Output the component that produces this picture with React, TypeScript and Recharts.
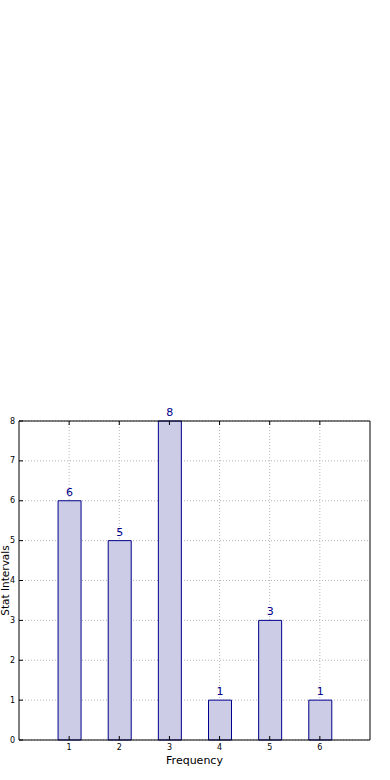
import { BarChart, Bar, XAxis, YAxis, CartesianGrid, LabelList } from 'recharts';

const frequencies = [1, 2, 3, 4, 5, 6];
const intervals = [6, 5, 8, 1, 3, 1];
const xTicks = [1, 2, 3, 4, 5, 6];
const yTicks = [0, 1, 2, 3, 4, 5, 6, 7, 8];

const data = frequencies.map((f, i) => ({ freq: f, value: intervals[i] }));

const FONT = '"DejaVu Sans", sans-serif';

const YTick = ({ x, y, payload }: any) => (
  <g>
    <line x1={x + 4} x2={x + 8} y1={y} y2={y} stroke="#000" strokeWidth={1} />
    <text x={x} y={y} dy="0.32em" textAnchor="end" fontSize={8} fontFamily={FONT} fill="#000">
      {payload.value}
    </text>
  </g>
);

const XTick = ({ x, y, payload }: any) => (
  <g>
    <line x1={x} x2={x} y1={y - 3} y2={y - 7} stroke="#000" strokeWidth={1} />
    <text x={x} y={y} dy="0.85em" textAnchor="middle" fontSize={8} fontFamily={FONT} fill="#000">
      {payload.value}
    </text>
  </g>
);

// inward tick marks on the right and top spines
const RightTick = ({ x, y }: any) => (
  <line x1={x - 4} x2={x} y1={y} y2={y} stroke="#000" strokeWidth={1} />
);

const TopTick = ({ x, y }: any) => (
  <line x1={x} x2={x} y1={y} y2={y + 4} stroke="#000" strokeWidth={1} />
);

const YLabel = ({ viewBox }: any) => {
  const cx = viewBox.x + 5;
  const cy = viewBox.y + viewBox.height / 2;
  return (
    <text
      x={cx}
      y={cy}
      transform={`rotate(-90 ${cx} ${cy})`}
      textAnchor="middle"
      dominantBaseline="central"
      fontSize={10.5}
      fontFamily={FONT}
      fill="#000"
    >
      Stat Intervals
    </text>
  );
};

export default function App() {
  return (
    <div style={{ position: 'absolute', left: 0, top: 0, width: 390, height: 780, background: '#fff' }}>
      <BarChart
        width={390}
        height={780}
        data={data}
        margin={{ top: 420, right: 19, bottom: 0, left: 0 }}
      >
        <CartesianGrid
          stroke="#b5b5b5"
          strokeDasharray="1 2"
          verticalValues={xTicks}
          horizontalValues={yTicks}
        />
        <XAxis
          dataKey="freq"
          type="number"
          domain={[0, 7]}
          ticks={xTicks}
          height={40}
          tickSize={0}
          tickMargin={3}
          tick={<XTick />}
          axisLine={{ stroke: '#000' }}
          allowDataOverflow
          label={{ value: 'Frequency', position: 'insideBottom', offset: 16, fontSize: 11, fontFamily: FONT, fill: '#000' }}
        />
        <XAxis
          xAxisId="top"
          dataKey="freq"
          orientation="top"
          type="number"
          domain={[0, 7]}
          ticks={xTicks}
          height={1}
          tickSize={0}
          tickMargin={0}
          tick={<TopTick />}
          axisLine={{ stroke: '#000' }}
        />
        <YAxis
          domain={[0, 8]}
          ticks={yTicks}
          width={19}
          tickSize={0}
          tickMargin={4}
          tick={<YTick />}
          axisLine={{ stroke: '#000' }}
          label={<YLabel />}
        />
        <YAxis
          yAxisId="right"
          orientation="right"
          domain={[0, 8]}
          ticks={yTicks}
          width={1}
          tickSize={0}
          tickMargin={0}
          tick={<RightTick />}
          axisLine={{ stroke: '#000' }}
        />
        <Bar
          dataKey="value"
          barSize={23}
          fill="#ccccE6"
          stroke="#000088"
          strokeWidth={1}
          isAnimationActive={false}
        >
          <LabelList dataKey="value" position="top" offset={5} fontSize={11} fontFamily={FONT} fill="#00008b" />
        </Bar>
      </BarChart>
    </div>
  );
}
